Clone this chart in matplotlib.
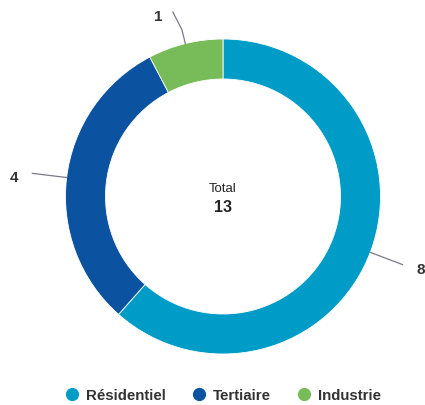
import numpy as np
import matplotlib
matplotlib.use("Agg")
import matplotlib.pyplot as plt

categories = ["Résidentiel", "Tertiaire", "Industrie"]
values = [8, 4, 1]
colors = ["#009cc8", "#0b52a1", "#77bc58"]
total_label = "Total"

W, H = 425, 406
fig = plt.figure(figsize=(W / 100, H / 100), dpi=100)
ax = fig.add_axes([0, 0, 1, 1])

cx, cy = 223, H - 197.5
R = 157.5
ring = 40

wedges, _ = ax.pie(values, colors=colors, startangle=90, counterclock=False,
                   radius=R, center=(cx, cy), frame=True,
                   wedgeprops=dict(width=ring, edgecolor="white", linewidth=0.6))
ax.set_xlim(0, W)
ax.set_ylim(0, H)
ax.axis("off")

txtc = "#333333"
font = ["Liberation Sans", "DejaVu Sans"]
for w, v in zip(wedges, values):
    mid = np.deg2rad((w.theta1 + w.theta2) / 2)
    x0, y0 = cx + R * np.cos(mid), cy + R * np.sin(mid)
    xm, ym = cx + 172 * np.cos(mid), cy + 172 * np.sin(mid)
    s = 1 if np.cos(mid) > 0 else -1
    x1 = cx + 192 * np.cos(mid)
    y1 = cy + 192 * np.sin(mid)
    off = 18
    if abs(np.cos(mid)) < 0.5:
        # near-vertical connector bends slightly toward its label
        x1 = xm + s * 9
        y1 = cy + 190 * np.sin(mid)
        off = 15
    ax.plot([x0, xm, x1], [y0, ym, y1], color="#7a7a8a", lw=0.9)
    ax.text(x1 + s * off, y1 - 4, str(v), ha="center", va="center",
            fontsize=11, fontweight="bold", color=txtc, family=font)

ax.text(cx, H - 189, total_label, ha="center", va="center", fontsize=9.5,
        color="#222222", family=font)
ax.text(cx, H - 208, str(sum(values)), ha="center", va="center", fontsize=11.5,
        fontweight="bold", color="#222222", family=font)

handles = [plt.Line2D([], [], marker="o", ls="", markersize=8.5,
                      markerfacecolor=c, markeredgecolor=c) for c in colors]
leg = fig.legend(handles, categories, loc="center", bbox_to_anchor=(222 / W, 1 - 396 / H),
                 ncol=3, frameon=False, handletextpad=0.35, columnspacing=1.6,
                 handlelength=1.2, prop=dict(family=font, weight="bold", size=10.8))
for t in leg.get_texts():
    t.set_color(txtc)

fig.savefig("out.png", dpi=100)
